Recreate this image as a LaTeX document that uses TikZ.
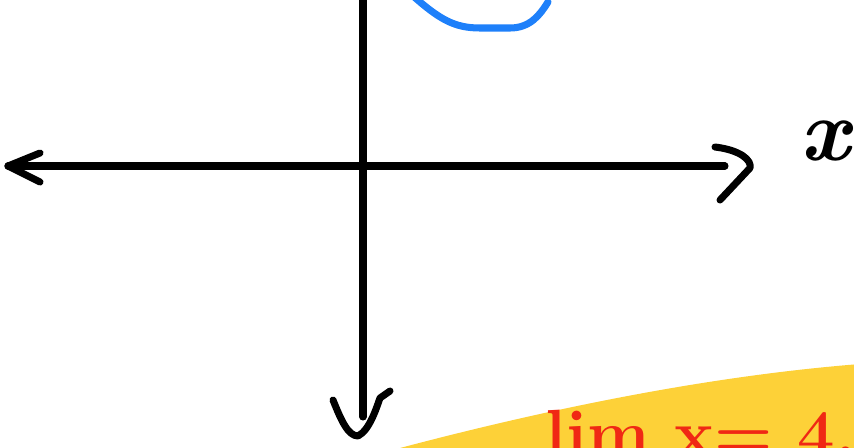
\documentclass[tikz,border=0pt]{standalone}
\usepackage{tikz}
\definecolor{curveblue}{RGB}{30,128,250}
\definecolor{marker}{RGB}{253,209,56}
\definecolor{penred}{RGB}{240,40,20}
\begin{document}
\begin{tikzpicture}[x=0.02cm,y=-0.02cm,
  axis/.style={line width=4pt,line cap=round,line join=round,black},
  curve/.style={line width=4pt,line cap=round,curveblue},
  limtext/.style={penred,font=\fontsize{38}{42}\selectfont\bfseries,inner sep=0pt}]
  \useasboundingbox (0,0) rectangle (854,447);
  \clip (0,0) rectangle (854,447);

  % Yellow highlight
  \fill[marker] (385,452) .. controls (560,405) and (720,375) .. (860,364) -- (860,452) -- cycle;

  % Limit text
  \node[limtext,anchor=base west] (lim) at (545,456) {lim x= 4.};

  % Axes
  \coordinate (O) at (363,166);
  \coordinate (xleft) at (8,166);
  \coordinate (xright) at (725,166);
  \coordinate (ytop) at (363,-5);
  \coordinate (ybottom) at (363,417);
  \draw[axis] (xleft) -- (xright);
  \draw[axis] (ytop) -- (ybottom);

  % Arrow heads
  \draw[axis] (xleft) ++(32,-13) -- (xleft) -- ++(32,16);
  \draw[axis] (xright) ++(-10,-19) .. controls ++(25,3) and ++(2,-8) .. ++(35,21) -- ++(-30,32);
  \draw[axis] (ybottom) ++(-30,-17) .. controls ++(8,20) and ++(-10,0) .. ++(25,36)
    .. controls ++(12,-6) and ++(-3,8) .. ++(22,-38) -- ++(10,-7);

  % Axis label
  \node[font=\fontsize{50}{54}\selectfont\bfseries\itshape,inner sep=0pt,anchor=base west] (xlabel) at (800,160) {x};

  % Blue curve
  \draw[curve] (412,-5) .. controls (440,20) and (455,28) .. (480,28) -- (510,28)
    .. controls (530,28) and (540,15) .. (548,2);
\end{tikzpicture}
\end{document}
